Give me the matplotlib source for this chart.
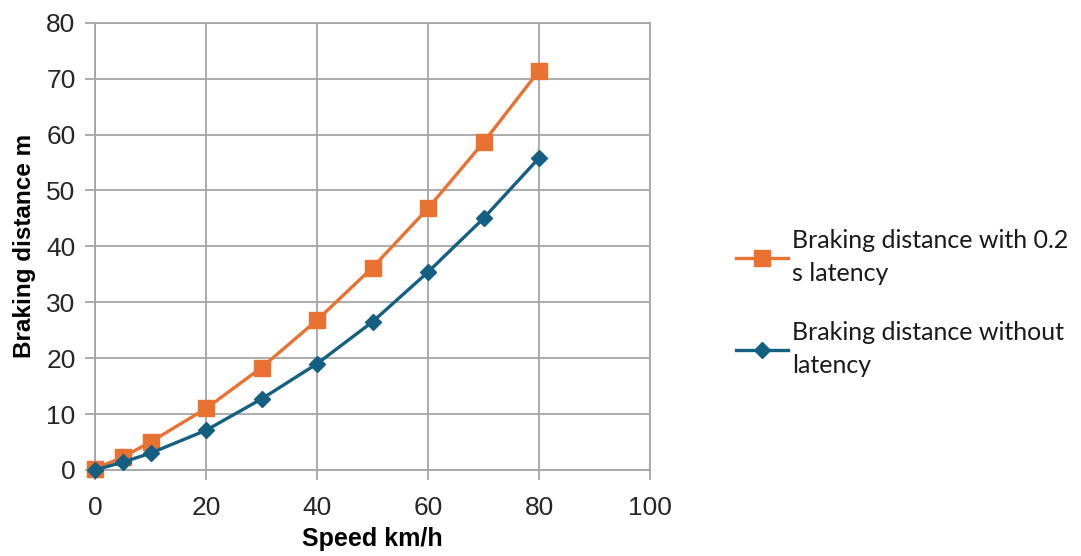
import matplotlib
matplotlib.use("Agg")
import matplotlib.pyplot as plt

speed = [0, 5, 10, 20, 30, 40, 50, 60, 70, 80]
with_latency = [0.2, 2.3, 5.0, 11.0, 18.3, 26.8, 36.2, 46.8, 58.6, 71.4]
without_latency = [0.0, 1.4, 3.0, 7.1, 12.7, 19.0, 26.5, 35.4, 45.0, 55.8]
labels = ["Braking distance with 0.2\ns latency", "Braking distance without\nlatency"]

orange = "#E97132"
blue = "#156082"
grid_c = "#A6A6A6"

plt.rcParams["font.family"] = ["Liberation Sans", "DejaVu Sans"]

fig = plt.figure(figsize=(10.81, 5.56), dpi=100)
ax = fig.add_axes([0.0879, 0.1547, 0.5134, 0.8045])

ax.plot(speed, with_latency, color=orange, lw=2.4, marker="s", ms=11.5, label=labels[0], zorder=3)
ax.plot(speed, without_latency, color=blue, lw=2.4, marker="D", ms=8.5, label=labels[1], zorder=4)

ax.set_xlim(0, 100)
ax.set_ylim(0, 80)
ax.set_xticks(range(0, 101, 20))
ax.set_yticks(range(0, 81, 10))
ax.grid(True, color=grid_c, lw=1.3)
ax.set_axisbelow(True)
for s in ax.spines.values():
    s.set_color(grid_c)
    s.set_linewidth(1.3)
ax.tick_params(axis="both", length=7, width=1.3, color=grid_c, labelsize=19, labelcolor="#262626")
ax.tick_params(axis="x", pad=12)
ax.tick_params(axis="y", pad=7)
ax.set_xlabel("Speed km/h", fontsize=18, fontweight="bold", labelpad=5)
ax.set_ylabel("Braking distance m", fontsize=17.5, fontweight="bold", labelpad=7)
for line in ax.get_lines():
    line.set_clip_on(False)

leg = fig.legend(loc="center left", bbox_to_anchor=(0.66, 0.455), frameon=False,
                 prop={"family": "Lato", "size": 18}, handlelength=2.1, handletextpad=0.15,
                 labelspacing=1.45)
for t in leg.get_texts():
    t.set_linespacing(1.5)
    t.set_color("#1a1a1a")

fig.savefig("out.png", dpi=100)
